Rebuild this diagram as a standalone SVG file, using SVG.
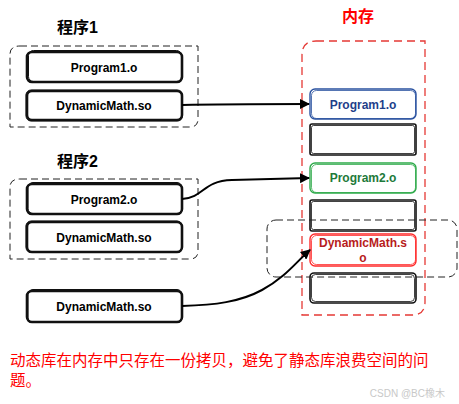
<svg xmlns="http://www.w3.org/2000/svg" width="459" height="404" viewBox="0 0 459 404">
<style>
.t{font-family:"Liberation Sans",Arial,sans-serif;font-weight:bold;font-size:12px;text-anchor:middle;dominant-baseline:central}
.title{font-family:"Liberation Sans","Noto Sans CJK SC",sans-serif;font-weight:bold;font-size:16px}
.grp{fill:none;stroke:#222;stroke-width:1;stroke-dasharray:7,4}
.box{fill:#fff;stroke:#111;stroke-width:2.6}
.box2{fill:none;stroke:#111;stroke-width:1}
.mem{fill:#fff;stroke:#111;stroke-width:1.6}
.mem2{fill:none;stroke:#111;stroke-width:0.8}
.conn{fill:none;stroke:#000;stroke-width:2}
.note{font-family:"Noto Sans CJK SC",sans-serif;font-size:15.5px;fill:#ff0000}
</style>
<defs>
<marker id="arr" markerWidth="10" markerHeight="10" refX="9" refY="5" orient="auto" markerUnits="userSpaceOnUse">
<path d="M0,0 L10,5 L0,10 Z" fill="#000"/>
</marker>
</defs>
<rect width="459" height="404" fill="#fff"/>

<g id="memory">
<text x="358" y="22" class="title" fill="#ff0000" text-anchor="middle">内存</text>
<path d="M316,41 L425,41 L425,302 Q425,315 412,315 L302,315 L302,55 Q302,41 316,41 Z" fill="none" stroke="#e53935" stroke-width="1.3" stroke-dasharray="8,5"/>
</g>

<g id="prog1">
<text x="57" y="33" class="title" fill="#000">程序1</text>
<path class="grp" d="M20,46 L198,46 L198,119 Q198,127 190,127 L10,127 L10,54 Q10,46 20,46 Z"/>
</g>
<g id="prog1_obj">
<rect class="box" x="27" y="52" width="155" height="30" rx="5"/>
<rect class="box2" x="28.5" y="50.5" width="153" height="31" rx="5"/>
<text class="t" x="104" y="68">Program1.o</text>
</g>
<g id="prog1_so">
<rect class="box" x="27" y="91" width="155" height="29" rx="5"/>
<rect class="box2" x="26" y="90" width="156.5" height="31" rx="5"/>
<text class="t" x="104" y="106">DynamicMath.so</text>
</g>

<g id="prog2">
<text x="57" y="167" class="title" fill="#000">程序2</text>
<path class="grp" d="M20,179 L198,179 L198,251 Q198,259 190,259 L10,259 L10,187 Q10,179 20,179 Z"/>
</g>
<g id="prog2_obj">
<rect class="box" x="27" y="184" width="155" height="30" rx="5"/>
<rect class="box2" x="28" y="182.5" width="154" height="31" rx="5"/>
<text class="t" x="104" y="200">Program2.o</text>
</g>
<g id="prog2_so">
<rect class="box" x="27" y="222" width="155" height="30" rx="5"/>
<rect class="box2" x="26" y="221" width="156" height="31.5" rx="5"/>
<text class="t" x="104" y="238">DynamicMath.so</text>
</g>

<g id="lib_so">
<rect class="box" x="27" y="291" width="155" height="31" rx="5"/>
<rect class="box2" x="28" y="289.5" width="154" height="33" rx="5"/>
<text class="t" x="104" y="307">DynamicMath.so</text>
</g>

<g id="mem_p1">
<rect x="310" y="89" width="106" height="30" rx="5" fill="#fff" stroke="#2a52a0" stroke-width="1.4"/>
<rect x="311.5" y="90.5" width="104" height="28" rx="5" fill="none" stroke="#2a52a0" stroke-width="0.8"/>
<text class="t" x="363" y="105" fill="#1f3f8a">Program1.o</text>
</g>
<g id="mem_b1">
<rect class="mem" x="310" y="124" width="106" height="31" rx="2"/>
<rect class="mem2" x="311.5" y="125.5" width="103" height="28" rx="2"/>
</g>
<g id="mem_p2">
<rect x="310" y="163" width="106" height="30" rx="5" fill="#fff" stroke="#2eaa4a" stroke-width="1.4"/>
<rect x="311.5" y="164.5" width="104" height="28" rx="5" fill="none" stroke="#2eaa4a" stroke-width="0.8"/>
<text class="t" x="363" y="178" fill="#1e7a3a">Program2.o</text>
</g>
<g id="mem_b2">
<rect class="mem" x="310" y="200" width="106" height="31" rx="2"/>
<rect class="mem2" x="311.5" y="201.5" width="103" height="28" rx="2"/>
</g>
<g id="mem_so">
<rect x="310" y="234" width="106" height="32" rx="5" fill="#fff" stroke="#ff2a2a" stroke-width="1.4"/>
<rect x="311.5" y="235.5" width="104" height="29" rx="5" fill="none" stroke="#ff2a2a" stroke-width="0.8"/>
<text class="t" x="363" y="243" fill="#b71c1c">DynamicMath.s</text>
<text class="t" x="363" y="258" fill="#b71c1c">o</text>
</g>
<g id="mem_b3">
<rect class="mem" x="310" y="273" width="106" height="30" rx="4"/>
<rect class="mem2" x="311.5" y="274.5" width="103" height="27" rx="4"/>
</g>
<g id="shared_group">
<rect class="grp" x="267" y="220" width="190" height="57" rx="9"/>
</g>

<g id="connectors">
<path class="conn" d="M182,105 C220,104 260,104 309,104" marker-end="url(#arr)"/>
<path class="conn" d="M182,199 C205,197 202,181 232,180 L309,178" marker-end="url(#arr)"/>
<path class="conn" d="M182,306 C215,305 240,302 262,290 C285,278 298,260 310,250" marker-end="url(#arr)"/>
</g>

<g id="note">
<text class="note" x="10" y="366">动态库在内存中只存在一份拷贝，避免了静态库浪费空间的问</text>
<text class="note" x="10" y="386">题。</text>
<text x="445" y="397" font-family="Liberation Sans,'Noto Sans CJK SC',sans-serif" font-size="10" fill="#c8c8c8" text-anchor="end">CSDN @BC橡木</text>
</g>
</svg>
